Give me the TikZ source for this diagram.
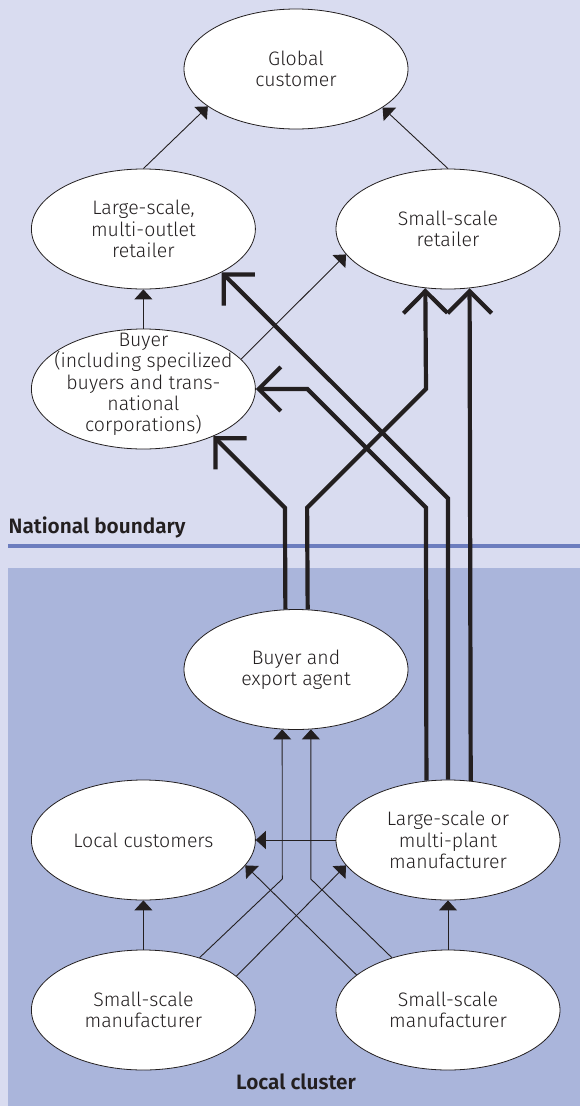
\documentclass[tikz,border=0pt]{standalone}
\usepackage{fontspec}
\setmainfont{Fira Sans}[UprightFont={* Light},BoldFont={* SemiBold}]
\usetikzlibrary{arrows.meta,shapes.geometric}
\definecolor{topbg}{RGB}{217,220,240}
\definecolor{botbg}{RGB}{170,181,219}
\definecolor{bline}{RGB}{108,125,190}
\definecolor{ink}{RGB}{35,31,32}
\begin{document}
\begin{tikzpicture}[x=1pt,y=-1pt,
  oval/.style={ellipse,draw=ink,line width=0.8pt,fill=white,minimum width=224pt,minimum height=120pt,inner sep=0pt,align=center,font=\fontsize{19.5}{21.3}\selectfont,text=ink},
  txt/.style={align=center,font=\fontsize{19.5}{21.3}\selectfont,text=ink,inner sep=0pt},
  thinarrow/.style={draw=ink,line width=0.9pt,-{Triangle[length=10pt,width=18pt]}},
  thickarrow/.style={draw=ink,line width=4.2pt,-{Straight Barb[length=22pt,width=44pt,sharp]}},
  lbl/.style={font=\fontsize{20.8}{22}\selectfont\bfseries,text=ink,inner sep=0pt}]
\fill[topbg] (0,0) rectangle (580,1106);
\fill[botbg] (8,568) rectangle (580,1106);
\fill[bline] (8,543.6) rectangle (580,547.6);
\useasboundingbox (0,0) rectangle (580,1106);

\node[oval] (glob) at (296,69) {Global\\customer};
\node[oval] (lret) at (143.4,229) {Large-scale,\\multi-outlet\\retailer};
\node[oval] (sret) at (448,229) {Small-scale\\retailer};
\node[oval] (buyer) at (143.4,389) {};
\node[txt] (buyertxt) at (143.4,384.5) {Buyer\\(including specilized\\buyers and trans-\\national\\corporations)};
\node[oval] (agent) at (296,669.5) {Buyer and\\export agent};
\node[oval] (lcust) at (143.4,840) {Local customers};
\node[oval] (lman) at (448,840) {Large-scale or\\multi-plant\\manufacturer};
\node[oval] (smanL) at (143.4,1010) {Small-scale\\manufacturer};
\node[oval] (smanR) at (448,1010) {Small-scale\\manufacturer};

\node[lbl,anchor=base west] (natl) at (8.5,533.5) {National boundary};
\node[lbl,anchor=base] (cluster) at (296,1089) {Local cluster};

% thin connectors
\draw[thinarrow] (lret.north) -- (glob.203.5);
\draw[thinarrow] (sret.north) -- (glob.336.5);
\draw[thinarrow] (buyer.north) -- (lret.south);
\draw[thinarrow] (buyer.17.8) -- (sret.194.5);
\draw[thinarrow] (lman.west) -- (lcust.east);
\coordinate (bL) at (282.3,879);
\coordinate (bR) at (310.8,879);
\draw[thinarrow] (smanL.43) -- (bL) -- (agent.257);
\draw[thinarrow] (smanR.137) -- (bR) -- (agent.284);
\draw[thinarrow] (smanL.20.2) -- (lman.194);
\draw[thinarrow] (smanR.159.5) -- (lcust.346);
\draw[thinarrow] (smanL.north) -- (lcust.south);
\draw[thinarrow] (smanR.north) -- (lman.south);

% thick connectors
\coordinate (t1a) at (284.9,507.7);
\draw[thickarrow] (agent.100.5) -- (t1a) -- (buyer.326.4);
\coordinate (t2a) at (307.1,507.7);
\coordinate (t2b) at (426,388.8);
\draw[thickarrow] (agent.79.5) -- (t2a) -- (t2b) -- (sret.249.5);
\coordinate (t3a) at (426,507.7);
\coordinate (t3b) at (307.3,389);
\draw[thickarrow] (lman.110.5) -- (t3a) -- (t3b) -- (buyer.east);
\coordinate (t4a) at (448,498.3);
\draw[thickarrow] (lman.north) -- (t4a) -- (lret.331.4);
\draw[thickarrow] (lman.69.5) -- (sret.290.5);
\end{tikzpicture}
\end{document}
